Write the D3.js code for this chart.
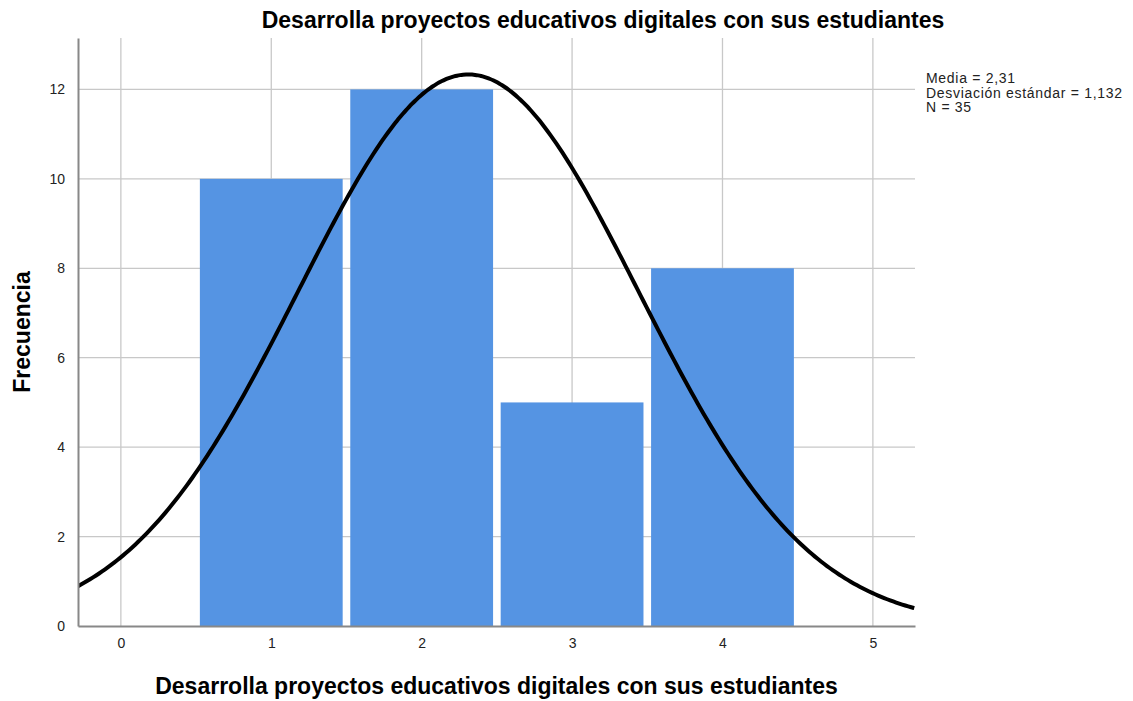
<!DOCTYPE html>
<html>
<head>
<meta charset="utf-8">
<script src="https://cdn.jsdelivr.net/npm/d3@7"></script>
<style>
  body { margin: 0; background: #fff; }
  text { font-family: "Liberation Sans", Arial, sans-serif; }
</style>
</head>
<body>
<script>
// histogram data
let categories = [1, 2, 3, 4];
let counts = [10, 12, 5, 8];
let xTicks = [0, 1, 2, 3, 4, 5];
let yTicks = [0, 2, 4, 6, 8, 10, 12];

// summary stats shown in the legend (used for the normal curve)
let mean = 2.31;
let sd = 1.132;
let n = 35;
let legendLines = ["Media = 2,31", "Desviación estándar = 1,132", "N = 35"];

let title = "Desarrolla proyectos educativos digitales con sus estudiantes";

let margin = {top: 38, right: 218, bottom: 75, left: 78};
let width = 1133 - margin.left - margin.right;
let height = 701 - margin.top - margin.bottom;

let xScale = d3.scaleLinear().domain([-0.285, 5.28]).range([0, width]);
let yScale = d3.scaleLinear().domain([0, 13.15]).range([height, 0]);

let svg = d3.select("body").append("svg")
    .attr("width", 1133)
    .attr("height", 701);

let g = svg.append("g")
    .attr("transform", "translate(" + margin.left + "," + margin.top + ")");

// gridlines
g.selectAll(".vgrid")
    .data(xTicks)
  .enter().append("line")
    .attr("x1", d => xScale(d)).attr("x2", d => xScale(d))
    .attr("y1", 0).attr("y2", height)
    .attr("stroke", "#c8c8c8").attr("stroke-width", 1.3);

g.selectAll(".hgrid")
    .data(yTicks.filter(d => d > 0))
  .enter().append("line")
    .attr("x1", 0).attr("x2", width)
    .attr("y1", d => yScale(d)).attr("y2", d => yScale(d))
    .attr("stroke", "#c8c8c8").attr("stroke-width", 1.3);

// bars
let unit = xScale(1) - xScale(0);
g.selectAll(".bar")
    .data(categories)
  .enter().append("rect")
    .attr("x", d => xScale(d - 0.5) + 3.8)
    .attr("width", unit - 7.6)
    .attr("y", (d, i) => yScale(counts[i]))
    .attr("height", (d, i) => height - yScale(counts[i]))
    .attr("fill", "#5594e3");

// normal curve scaled to the histogram
svg.append("clipPath").attr("id", "plotclip")
  .append("rect").attr("x", 0).attr("y", -10).attr("width", width).attr("height", height + 10);

let xs = d3.range(-0.285, 5.29, 0.02);
let line = d3.line()
    .x(d => xScale(d))
    .y(d => yScale(n / (sd * Math.sqrt(2 * Math.PI)) * Math.exp(-0.5 * Math.pow((d - mean) / sd, 2))))
    .curve(d3.curveBasis);

g.append("path")
    .datum(xs)
    .attr("clip-path", "url(#plotclip)")
    .attr("d", line)
    .attr("fill", "none")
    .attr("stroke", "#000")
    .attr("stroke-width", 4);

// axes
let xAxis = g.append("g")
    .attr("transform", "translate(0," + height + ")")
    .call(d3.axisBottom(xScale).tickValues(xTicks).tickSize(0).tickPadding(12).tickFormat(d3.format("d")));
xAxis.select(".domain").attr("stroke", "#888").attr("stroke-width", 2);
xAxis.selectAll("text").attr("font-size", 14).attr("fill", "#222")
    .attr("font-family", "Liberation Sans, Arial, sans-serif");

let yAxis = g.append("g")
    .call(d3.axisLeft(yScale).tickValues(yTicks).tickSize(0).tickPadding(13).tickFormat(d3.format("d")));
yAxis.select(".domain").attr("stroke", "#888").attr("stroke-width", 2);
yAxis.selectAll("text").attr("font-size", 14).attr("fill", "#222")
    .attr("font-family", "Liberation Sans, Arial, sans-serif");

// titles
svg.append("text")
    .attr("x", 603).attr("y", 28)
    .attr("text-anchor", "middle")
    .attr("font-size", 23).attr("font-weight", "bold")
    .text(title);

svg.append("text")
    .attr("x", margin.left + width / 2).attr("y", 694)
    .attr("text-anchor", "middle")
    .attr("font-size", 23).attr("font-weight", "bold")
    .text(title);

svg.append("text")
    .attr("transform", "translate(30," + (margin.top + height / 2) + ") rotate(-90)")
    .attr("text-anchor", "middle")
    .attr("font-size", 23).attr("font-weight", "bold")
    .text("Frecuencia");

// legend text
svg.selectAll(".legend")
    .data(legendLines)
  .enter().append("text")
    .attr("x", 926)
    .attr("y", (d, i) => 83 + i * 14.5)
    .attr("font-size", 14)
    .attr("letter-spacing", 0.7)
    .attr("fill", "#222")
    .text(d => d);
</script>
</body>
</html>
